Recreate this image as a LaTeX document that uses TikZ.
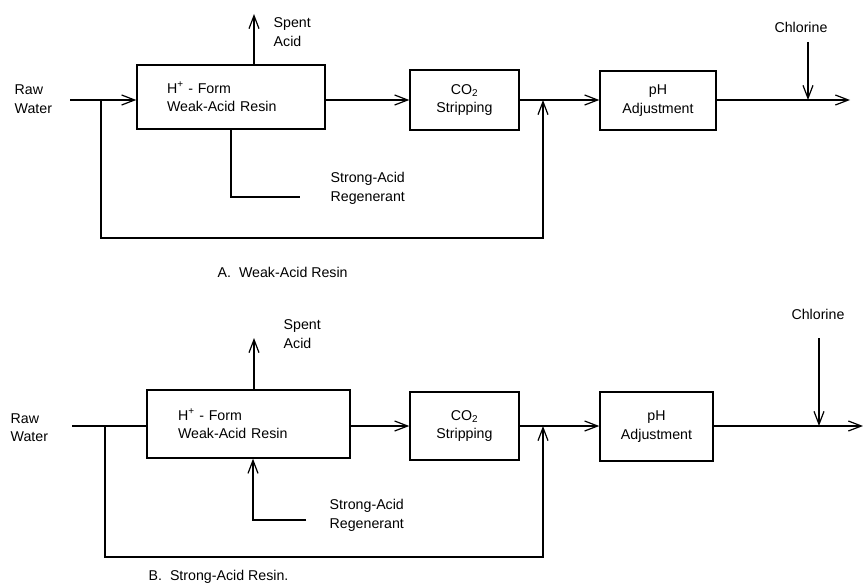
\documentclass[tikz,border=0pt]{standalone}
\usepackage{fontspec}
\setmainfont{Liberation Sans}
\usetikzlibrary{arrows.meta}
\begin{document}
\begin{tikzpicture}[x=1pt,y=-1pt,
  line width=1.4pt,
  every node/.style={font=\fontsize{14.2}{18.5}\selectfont, inner sep=0pt},
  arr/.style={-{Straight Barb[length=13pt,width=10pt,line width=1.2pt]}},
  boxA/.style={draw, align=center},
  lbl/.style={align=left, anchor=west}]
\useasboundingbox (0,0) rectangle (863,586);
% ---------------- A ----------------
\node[boxA, minimum width=188pt, minimum height=64pt, text width=128pt, inner xsep=30pt, align=left] (b1A) at (231,97) {H\textsuperscript{+} - Form\\Weak-Acid Resin};
\node[boxA, minimum width=109pt, minimum height=60pt] (b2A) at (464.5,100) {CO\textsubscript{2}\\Stripping};
\node[boxA, minimum width=116pt, minimum height=59pt] (b3A) at (658,100.5) {pH\\Adjustment};
\node[lbl] (rawA) at (14,99) {Raw\\Water};
\node[lbl] (spentA) at (273,32) {Spent\\Acid};
\node[lbl] (regA) at (330,188.5) {Strong-Acid\\Regenerant};
\node (clA) at (801,27) {Chlorine};
\node[lbl] (capA) at (217,272) {A.\ \ Weak-Acid Resin};
\coordinate (inA) at (70,100);
\coordinate (jA) at (101,100);
\coordinate (mA) at (543,100);
\coordinate (cA) at (543,238);
\coordinate (outA) at (850,100);
\coordinate (clsA) at (808,42);
\coordinate (spA) at (254,14);
\coordinate (rgcA) at (231,197);
\coordinate (rgA) at (300,197);
\draw[arr] (inA) -- (b1A.west |- inA);
\draw[arr] (jA) |- (cA) -- (mA);
\draw[arr] (b1A.east |- mA) -- (b2A.west |- mA);
\draw[arr] (b2A.east |- mA) -- (b3A.west |- mA);
\draw[arr] (b3A.east |- mA) -- (outA);
\draw[arr] (clsA) -- (clsA |- outA);
\draw[arr] (spA |- b1A.north) -- (spA);
\draw (rgcA |- b1A.south) -- (rgcA) -- (rgA);
% ---------------- B ----------------
\node[boxA, minimum width=203pt, minimum height=68pt, text width=141pt, inner xsep=31pt, align=left] (b1B) at (248.5,424) {H\textsuperscript{+} - Form\\Weak-Acid Resin};
\node[boxA, minimum width=109pt, minimum height=68pt] (b2B) at (464.5,426) {CO\textsubscript{2}\\Stripping};
\node[boxA, minimum width=113pt, minimum height=69pt] (b3B) at (656.5,426.5) {pH\\Adjustment};
\node[lbl] (rawB) at (10,427.5) {Raw\\Water};
\node[lbl] (spentB) at (283,334) {Spent\\Acid};
\node[lbl] (regB) at (329,515.5) {Strong-Acid\\Regenerant};
\node (clB) at (818,314) {Chlorine};
\node[lbl] (capB) at (148,577) {B.\ \ Strong-Acid Resin.};
\coordinate (inB) at (72,426);
\coordinate (jB) at (105,426);
\coordinate (mB) at (543,426);
\coordinate (cB) at (543,557);
\coordinate (outB) at (863,426);
\coordinate (clsB) at (819,338);
\coordinate (spB) at (254,338);
\coordinate (rgcB) at (253,520);
\coordinate (rgB) at (306,520);
\draw (inB) -- (b1B.west |- inB);
\draw[arr] (jB) |- (cB) -- (mB);
\draw[arr] (b1B.east |- mB) -- (b2B.west |- mB);
\draw[arr] (b2B.east |- mB) -- (b3B.west |- mB);
\draw[arr] (b3B.east |- mB) -- (outB);
\draw[arr] (clsB) -- (clsB |- outB);
\draw[arr] (spB |- b1B.north) -- (spB);
\draw[arr] (rgB) -- (rgcB) -- (rgcB |- b1B.south);
\end{tikzpicture}
\end{document}
